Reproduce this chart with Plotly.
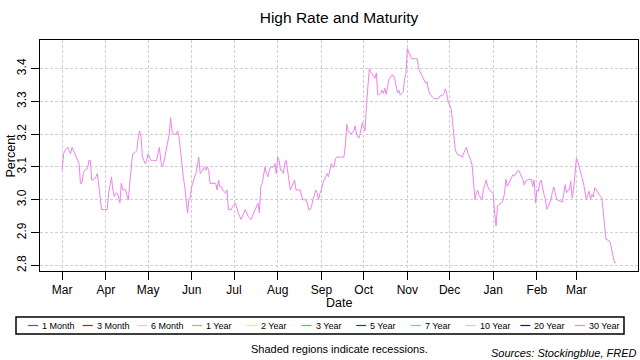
import plotly.graph_objects as go
import pandas as pd

# ---------------- data ----------------
dates = [
    "2018-03-01", "2018-03-02", "2018-03-03", "2018-03-05", "2018-03-06", "2018-03-07", "2018-03-08",
    "2018-03-09", "2018-03-10", "2018-03-11", "2018-03-13", "2018-03-14", "2018-03-15", "2018-03-16",
    "2018-03-17", "2018-03-19", "2018-03-20", "2018-03-21", "2018-03-22", "2018-03-23", "2018-03-25",
    "2018-03-26", "2018-03-27", "2018-03-28", "2018-03-29", "2018-03-31", "2018-04-02", "2018-04-03",
    "2018-04-04", "2018-04-05", "2018-04-06", "2018-04-07", "2018-04-08", "2018-04-09", "2018-04-10",
    "2018-04-11", "2018-04-12", "2018-04-13", "2018-04-15", "2018-04-16", "2018-04-17", "2018-04-18",
    "2018-04-19", "2018-04-20", "2018-04-22", "2018-04-23", "2018-04-24", "2018-04-25", "2018-04-26",
    "2018-04-27", "2018-04-28", "2018-04-29", "2018-04-30", "2018-05-01", "2018-05-02", "2018-05-03",
    "2018-05-04", "2018-05-07", "2018-05-08", "2018-05-09", "2018-05-10", "2018-05-11", "2018-05-12",
    "2018-05-13", "2018-05-14", "2018-05-15", "2018-05-16", "2018-05-17", "2018-05-18", "2018-05-19",
    "2018-05-21", "2018-05-22", "2018-05-23", "2018-05-24", "2018-05-25", "2018-05-26", "2018-05-27",
    "2018-05-28", "2018-05-29", "2018-05-30", "2018-05-31", "2018-06-01", "2018-06-02", "2018-06-03",
    "2018-06-04", "2018-06-05", "2018-06-06", "2018-06-07", "2018-06-08", "2018-06-10", "2018-06-11",
    "2018-06-12", "2018-06-13", "2018-06-14", "2018-06-16", "2018-06-18", "2018-06-19", "2018-06-20",
    "2018-06-21", "2018-06-22", "2018-06-23", "2018-06-25", "2018-06-26", "2018-06-27", "2018-06-29",
    "2018-06-30", "2018-07-02", "2018-07-03", "2018-07-04", "2018-07-05", "2018-07-06", "2018-07-07",
    "2018-07-08", "2018-07-09", "2018-07-10", "2018-07-11", "2018-07-13", "2018-07-14", "2018-07-15",
    "2018-07-16", "2018-07-17", "2018-07-18", "2018-07-19", "2018-07-20", "2018-07-21", "2018-07-22",
    "2018-07-23", "2018-07-24", "2018-07-25", "2018-07-26", "2018-07-27", "2018-07-29", "2018-07-30",
    "2018-07-31", "2018-08-01", "2018-08-02", "2018-08-03", "2018-08-04", "2018-08-05", "2018-08-06",
    "2018-08-07", "2018-08-08", "2018-08-09", "2018-08-10", "2018-08-11", "2018-08-12", "2018-08-13",
    "2018-08-14", "2018-08-16", "2018-08-17", "2018-08-18", "2018-08-19", "2018-08-20", "2018-08-21",
    "2018-08-22", "2018-08-23", "2018-08-24", "2018-08-25", "2018-08-26", "2018-08-28", "2018-08-29",
    "2018-08-30", "2018-08-31", "2018-09-01", "2018-09-02", "2018-09-03", "2018-09-04", "2018-09-05",
    "2018-09-06", "2018-09-07", "2018-09-08", "2018-09-09", "2018-09-10", "2018-09-11", "2018-09-12",
    "2018-09-14", "2018-09-17", "2018-09-18", "2018-09-19", "2018-09-20", "2018-09-21", "2018-09-22",
    "2018-09-24", "2018-09-25", "2018-09-26", "2018-09-27", "2018-09-28", "2018-09-29", "2018-09-30",
    "2018-10-01", "2018-10-02", "2018-10-03", "2018-10-04", "2018-10-05", "2018-10-06", "2018-10-07",
    "2018-10-08", "2018-10-09", "2018-10-10", "2018-10-11", "2018-10-12", "2018-10-13", "2018-10-14",
    "2018-10-15", "2018-10-16", "2018-10-17", "2018-10-18", "2018-10-19", "2018-10-21", "2018-10-22",
    "2018-10-23", "2018-10-24", "2018-10-25", "2018-10-26", "2018-10-27", "2018-10-28", "2018-10-29",
    "2018-10-30", "2018-10-31", "2018-11-01", "2018-11-02", "2018-11-03", "2018-11-04", "2018-11-07",
    "2018-11-08", "2018-11-09", "2018-11-10", "2018-11-11", "2018-11-12", "2018-11-13", "2018-11-14",
    "2018-11-15", "2018-11-16", "2018-11-17", "2018-11-19", "2018-11-20", "2018-11-23", "2018-11-24",
    "2018-11-26", "2018-11-27", "2018-11-28", "2018-11-29", "2018-11-30", "2018-12-01", "2018-12-02",
    "2018-12-03", "2018-12-04", "2018-12-05", "2018-12-06", "2018-12-07", "2018-12-09", "2018-12-10",
    "2018-12-11", "2018-12-12", "2018-12-13", "2018-12-14", "2018-12-15", "2018-12-16", "2018-12-17",
    "2018-12-18", "2018-12-19", "2018-12-20", "2018-12-21", "2018-12-22", "2018-12-23", "2018-12-24",
    "2018-12-25", "2018-12-26", "2018-12-27", "2018-12-28", "2018-12-29", "2018-12-31", "2019-01-01",
    "2019-01-02", "2019-01-03", "2019-01-04", "2019-01-05", "2019-01-07", "2019-01-08", "2019-01-09",
    "2019-01-10", "2019-01-11", "2019-01-12", "2019-01-13", "2019-01-14", "2019-01-15", "2019-01-16",
    "2019-01-17", "2019-01-18", "2019-01-19", "2019-01-20", "2019-01-21", "2019-01-22", "2019-01-23",
    "2019-01-24", "2019-01-26", "2019-01-28", "2019-01-29", "2019-01-30", "2019-01-31", "2019-02-01",
    "2019-02-02", "2019-02-03", "2019-02-04", "2019-02-05", "2019-02-06", "2019-02-07", "2019-02-08",
    "2019-02-09", "2019-02-10", "2019-02-11", "2019-02-12", "2019-02-13", "2019-02-14", "2019-02-15",
    "2019-02-16", "2019-02-18", "2019-02-19", "2019-02-20", "2019-02-21", "2019-02-22", "2019-02-23",
    "2019-02-24", "2019-02-25", "2019-02-26", "2019-02-27", "2019-02-28", "2019-03-01", "2019-03-02",
    "2019-03-03", "2019-03-04", "2019-03-05", "2019-03-06", "2019-03-07", "2019-03-08", "2019-03-09",
    "2019-03-10", "2019-03-11", "2019-03-12", "2019-03-13", "2019-03-14", "2019-03-15", "2019-03-16",
    "2019-03-17", "2019-03-18", "2019-03-19", "2019-03-20", "2019-03-21", "2019-03-22", "2019-03-24",
    "2019-03-25", "2019-03-26", "2019-03-27", "2019-03-28", "2019-03-29",
]

rates_30y = [
    3.09, 3.14, 3.15, 3.16, 3.15, 3.14, 3.16,
    3.15, 3.14, 3.13, 3.11, 3.05, 3.05, 3.08,
    3.09, 3.095, 3.12, 3.12, 3.06, 3.06, 3.07,
    3.08, 3.04, 2.99, 2.97, 2.97, 2.97, 3.02,
    3.05, 3.07, 3.03, 3.01, 3.02, 3.02, 3.01,
    2.99, 3.05, 3.03, 3.03, 3.01, 3.00, 3.05,
    3.09, 3.14, 3.145, 3.15, 3.19, 3.21, 3.19,
    3.13, 3.12, 3.11, 3.12, 3.14, 3.13, 3.12,
    3.12, 3.12, 3.14, 3.16, 3.12, 3.10, 3.11,
    3.13, 3.15, 3.18, 3.20, 3.25, 3.21, 3.20,
    3.20, 3.21, 3.19, 3.15, 3.10, 3.07, 3.04,
    3.00, 2.96, 3.00, 3.01, 3.04, 3.06, 3.07,
    3.08, 3.11, 3.13, 3.08, 3.085, 3.10, 3.09,
    3.10, 3.09, 3.05, 3.05, 3.05, 3.03, 3.06,
    3.04, 3.04, 3.03, 3.02, 3.03, 2.97, 2.97,
    2.98, 2.99, 2.97, 2.96, 2.95, 2.94, 2.95,
    2.96, 2.97, 2.96, 2.95, 2.94, 2.95, 2.96,
    2.97, 2.98, 2.99, 2.96, 3.04, 3.05, 3.08,
    3.10, 3.08, 3.07, 3.09, 3.10, 3.10, 3.11,
    3.08, 3.13, 3.12, 3.09, 3.09, 3.08, 3.11,
    3.12, 3.09, 3.05, 3.03, 3.04, 3.05, 3.06,
    3.03, 3.03, 3.03, 3.01, 3.00, 3.00, 3.00,
    2.99, 2.97, 2.97, 2.98, 3.00, 3.03, 3.02,
    3.00, 3.02, 3.03, 3.05, 3.06, 3.07, 3.08,
    3.07, 3.09, 3.11, 3.10, 3.10, 3.125, 3.13,
    3.13, 3.13, 3.165, 3.23, 3.21, 3.205, 3.20,
    3.21, 3.225, 3.20, 3.19, 3.19, 3.215, 3.235,
    3.22, 3.21, 3.29, 3.355, 3.40, 3.39, 3.385,
    3.377, 3.37, 3.387, 3.32, 3.32, 3.324, 3.334,
    3.324, 3.34, 3.322, 3.344, 3.367, 3.38, 3.38,
    3.37, 3.344, 3.326, 3.334, 3.319, 3.324, 3.329,
    3.365, 3.385, 3.461, 3.451, 3.44, 3.43, 3.43,
    3.43, 3.40, 3.39, 3.38, 3.37, 3.36, 3.355,
    3.36, 3.334, 3.322, 3.314, 3.308, 3.308, 3.316,
    3.318, 3.324, 3.338, 3.324, 3.299, 3.289, 3.279,
    3.243, 3.185, 3.153, 3.142, 3.137, 3.134, 3.13,
    3.142, 3.15, 3.161, 3.142, 3.132, 3.122, 3.105,
    3.052, 3.001, 3.021, 3.029, 3.013, 3.006, 3.001,
    3.031, 3.049, 3.06, 3.041, 3.031, 3.023, 3.019,
    2.96, 2.92, 2.981, 2.986, 2.991, 2.999, 3.021,
    3.062, 3.041, 3.051, 3.062, 3.07, 3.077, 3.072,
    3.08, 3.087, 3.09, 3.08, 3.07, 3.062, 3.045,
    3.057, 3.062, 3.062, 3.04, 3.06, 2.99, 3.03,
    3.026, 3.052, 3.06, 3.033, 3.016, 3.001, 2.971,
    2.979, 2.991, 3.001, 3.026, 3.039, 3.021, 3.001,
    2.999, 2.996, 2.993, 3.016, 3.046, 3.021, 3.029,
    3.031, 3.057, 3.006, 3.031, 3.077, 3.127, 3.117,
    3.097, 3.082, 3.067, 3.052, 3.031, 3.001, 3.013,
    3.026, 3.001, 3.016, 3.009, 3.036, 3.031, 3.021,
    3.016, 3.011, 3.006, 2.966, 2.915, 2.88, 2.875,
    2.87, 2.849, 2.829, 2.809, 2.809,
]

month_ticks = ["2018-03-01", "2018-04-01", "2018-05-01", "2018-06-01", "2018-07-01",
               "2018-08-01", "2018-09-01", "2018-10-01", "2018-11-01", "2018-12-01",
               "2019-01-01", "2019-02-01", "2019-03-01"]
month_labels = ["Mar", "Apr", "May", "Jun", "Jul", "Aug", "Sep", "Oct", "Nov", "Dec",
                "Jan", "Feb", "Mar"]
y_ticks = [2.8, 2.9, 3.0, 3.1, 3.2, 3.3, 3.4]

legend_names = ["1 Month", "3 Month", "6 Month", "1 Year", "2 Year", "3 Year",
                "5 Year", "7 Year", "10 Year", "20 Year", "30 Year"]
legend_colors = ["#A020F0", "#FF0000", "#FFC0CB", "#FFA500", "#FFFF00", "#00FF00",
                 "#006400", "#00FFFF", "#ADD8E6", "#0000FF", "#EE82EE"]

# ---------------- layout geometry (window pixels) ----------------
W, H = 640, 360
PL, PR, PT, PB = 40, 638, 40, 271          # plot box
ML, MR, MT, MB = PL, W - PR, PT, H - PB
PW, PH = W - ML - MR, H - MT - MB


def px(x):
    return (x - PL) / PW


def py(y):
    return (PB - y) / PH


d = pd.to_datetime(dates)
xpad = (d.max() - d.min()) * 0.04
ymin, ymax = min(rates_30y), max(rates_30y)
ypad = (ymax - ymin) * 0.04

FONT = "Liberation Sans, Arial, sans-serif"

fig = go.Figure()
fig.add_trace(go.Scatter(
    x=d, y=rates_30y, mode="lines",
    line=dict(color="#EE82EE", width=1),
    showlegend=False, hoverinfo="skip",
))

grid = dict(showgrid=True, gridcolor="#CFCFCF", griddash="3px,2px", gridwidth=1)
fig.update_layout(
    width=W, height=H,
    margin=dict(l=ML, r=MR, t=MT, b=MB, autoexpand=False),
    paper_bgcolor="white", plot_bgcolor="white",
    font=dict(family=FONT, color="black", size=12),
    showlegend=False,
    title=dict(text="High Rate and Maturity", x=0.5, xref="paper", xanchor="center",
               y=1 - 18 / H, yref="container", yanchor="middle",
               font=dict(size=15.5, family=FONT, color="black")),
    xaxis=dict(range=[d.min() - xpad, d.max() + xpad],
               tickvals=month_ticks, ticktext=month_labels,
               ticks="outside", ticklen=8, tickcolor="black", tickwidth=1,
               showline=True, mirror=True, linecolor="black", linewidth=1,
               zeroline=False, tickfont=dict(size=12, color="black"), **grid),
    yaxis=dict(range=[ymin - ypad, ymax + ypad],
               tickvals=y_ticks, ticktext=[f"{v:.1f}" for v in y_ticks],
               tickangle=-90,
               ticks="outside", ticklen=8, tickcolor="black", tickwidth=1,
               showline=True, mirror=True, linecolor="black", linewidth=1,
               zeroline=False, tickfont=dict(size=12, color="black"), **grid),
)

ann = [
    dict(text="Date", x=px((PL + PR) / 2), y=py(303), xanchor="center", yanchor="middle",
         font=dict(size=12.5)),
    dict(text="Percent", x=px(10), y=py((PT + PB) / 2), xanchor="center", yanchor="middle",
         textangle=-90, font=dict(size=12.5)),
    dict(text="Shaded regions indicate recessions.", x=px(339), y=py(349),
         xanchor="center", yanchor="middle", font=dict(size=11)),
    dict(text="<i>Sources: Stockingblue, FRED</i>", x=px(639), y=py(353),
         xanchor="right", yanchor="middle", font=dict(size=11)),
]

shapes = [dict(type="rect", xref="paper", yref="paper",
               x0=px(16), x1=px(624), y0=py(317), y1=py(334),
               line=dict(color="black", width=1.5), fillcolor="rgba(0,0,0,0)")]

step = 54.7
for i, (name, col) in enumerate(zip(legend_names, legend_colors)):
    x0 = 28 + i * step
    shapes.append(dict(type="line", xref="paper", yref="paper",
                       x0=px(x0), x1=px(x0 + 10), y0=py(325.5), y1=py(325.5),
                       line=dict(color=col, width=1.2)))
    ann.append(dict(text=name, x=px(x0 + 12), y=py(325.5), xanchor="left", yanchor="middle",
                    font=dict(size=9)))

for a in ann:
    a.update(xref="paper", yref="paper", showarrow=False)
    a.setdefault("font", {})
    a["font"].setdefault("family", FONT)
    a["font"].setdefault("color", "black")

fig.update_layout(annotations=ann, shapes=shapes)
# remove the browser's default 8px body margin so the 640x360 figure fills the window
fig.write_html("out.html", config={"displayModeBar": False, "staticPlot": True},
               post_script="document.body.style.margin='0';")
